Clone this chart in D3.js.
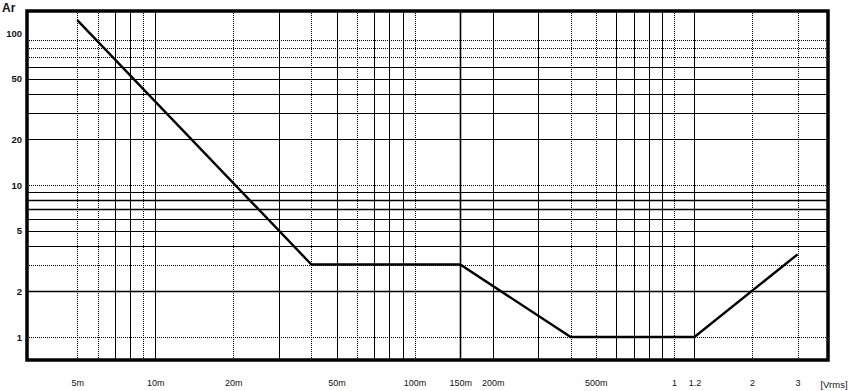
<!DOCTYPE html>
<html>
<head>
<meta charset="utf-8">
<script src="https://cdn.jsdelivr.net/npm/d3@7"></script>
<style>
  html, body { margin: 0; padding: 0; background: #fff; }
  svg { display: block; }
  text { font-family: "Liberation Sans", Arial, sans-serif; fill: #111; }
</style>
</head>
<body>
<svg id="chart" width="853" height="391"></svg>
<script>
// ---- data ----
const curveX = [0.005, 0.04, 0.15, 0.4, 1.2, 3];
const curveY = [122, 3, 3, 1, 1, 3.5];

const xGridValues = [0.005, 0.006, 0.007, 0.008, 0.009, 0.01, 0.02, 0.03, 0.04, 0.05, 0.06, 0.07, 0.08, 0.09, 0.1,
                     0.15, 0.2, 0.3, 0.4, 0.5, 0.6, 0.7, 0.8, 0.9, 1, 1.2, 2, 3];
const yGridValues = [1, 2, 3, 4, 5, 6, 7, 8, 9, 10, 20, 30, 40, 50, 60, 70, 80, 90];

const xTickValues = [0.005, 0.01, 0.02, 0.05, 0.1, 0.15, 0.2, 0.5, 1, 1.2, 2, 3];
const xTickLabels = ["5m", "10m", "20m", "50m", "100m", "150m", "200m", "500m", "1", "1.2", "2", "3"];
const yTickValues = [1, 2, 5, 10, 20, 50, 100];
const yTickLabels = ["1", "2", "5", "10", "20", "50", "100"];
const yAxisTitle = "Ar";
const xAxisUnit = "[Vrms]";

// ---- layout ----
const L = 27, R = 828, T = 11, B = 360;
const svg = d3.select("#chart");

const x = d3.scaleLog().domain([0.0032, 3.93]).range([L, R]);
const y = d3.scaleLog().domain([0.706, 140]).range([B, T]);

// gridline appearance (scan-like: some dotted, some solid)
const dottedX = new Set([0.005, 0.006, 0.009, 0.02, 0.04, 0.06, 0.1, 0.4, 0.5, 1, 2, 3]);
const dottedY = new Set([1, 3, 10, 70, 80, 90]);

const grid = svg.append("g");
grid.selectAll("line.v").data(xGridValues).join("line")
  .attr("class", "v")
  .attr("x1", d => Math.round(x(d)) + 0.5).attr("x2", d => Math.round(x(d)) + 0.5)
  .attr("y1", T).attr("y2", B)
  .attr("stroke", "#000")
  .attr("stroke-width", d => (d === 0.15) ? 1.6 : 1)
  .attr("stroke-dasharray", d => dottedX.has(d) ? "1,1" : null);

grid.selectAll("line.h").data(yGridValues).join("line")
  .attr("class", "h")
  .attr("y1", d => Math.round(y(d)) + 0.5).attr("y2", d => Math.round(y(d)) + 0.5)
  .attr("x1", L).attr("x2", R)
  .attr("stroke", "#000")
  .attr("stroke-width", d => (d === 7 || d === 8 || d === 2) ? 1.6 : 1)
  .attr("stroke-dasharray", d => dottedY.has(d) ? "1,1" : null);

// frame
svg.append("rect")
  .attr("x", L).attr("y", T).attr("width", R - L).attr("height", B - T)
  .attr("fill", "none").attr("stroke", "#000").attr("stroke-width", 3.5);

// curve
const pts = curveX.map((v, i) => [v, curveY[i]]);
svg.append("path")
  .datum(pts)
  .attr("fill", "none")
  .attr("stroke", "#000")
  .attr("stroke-width", 2.4)
  .attr("stroke-linejoin", "miter")
  .attr("d", d3.line().x(d => x(d[0])).y(d => y(d[1])));

// x axis (labels only)
const xAxis = d3.axisBottom(x).tickValues(xTickValues)
  .tickFormat((d, i) => xTickLabels[i]).tickSize(0).tickPadding(0);
const gx = svg.append("g").attr("transform", `translate(0,${B + 20})`).call(xAxis);
gx.select(".domain").remove();
gx.selectAll("text").attr("font-size", 9).attr("font-family", "Liberation Sans, Arial, sans-serif").attr("fill", "#111");

svg.append("text").attr("x", 834).attr("y", 388).attr("text-anchor", "middle")
  .attr("font-size", 9.5).text(xAxisUnit);

// y axis (labels only)
const yAxis = d3.axisLeft(y).tickValues(yTickValues)
  .tickFormat((d, i) => yTickLabels[i]).tickSize(0).tickPadding(0);
const gy = svg.append("g").attr("transform", `translate(${L - 5},0)`).call(yAxis);
gy.select(".domain").remove();
gy.selectAll("text").attr("font-size", 9.5).attr("font-family", "Liberation Sans, Arial, sans-serif").attr("fill", "#111").attr("font-weight", "bold");

svg.append("text").attr("x", 2).attr("y", 12).attr("font-size", 12).attr("font-weight", "bold").text(yAxisTitle);
</script>
</body>
</html>
